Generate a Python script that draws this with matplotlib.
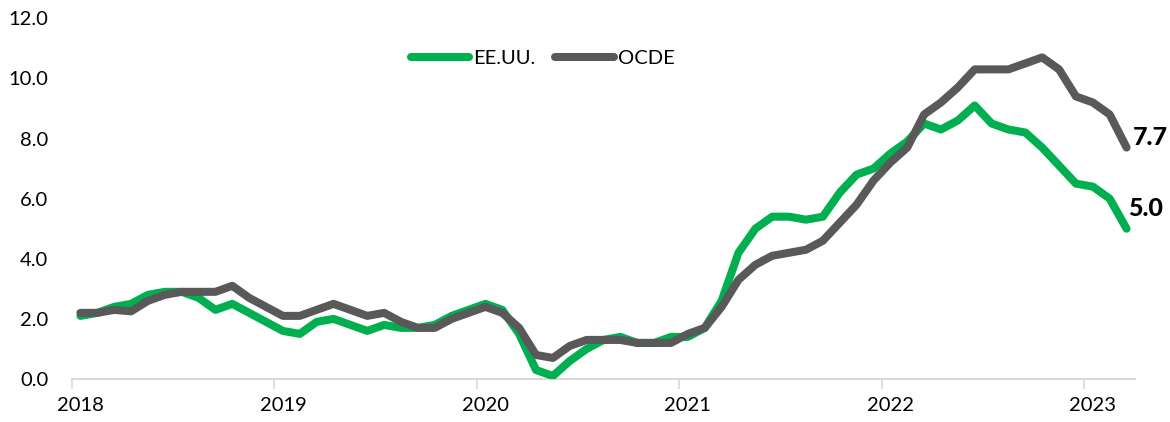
import matplotlib
matplotlib.use("Agg")
import matplotlib.pyplot as plt
import numpy as np

plt.rcParams['font.family'] = ['Lato', 'DejaVu Sans']

years = ["2018", "2019", "2020", "2021", "2022", "2023"]
us = [2.1, 2.2, 2.4, 2.5, 2.8, 2.9, 2.9, 2.7, 2.3, 2.5, 2.2, 1.9,
      1.6, 1.5, 1.9, 2.0, 1.8, 1.6, 1.8, 1.7, 1.7, 1.8, 2.1, 2.3,
      2.5, 2.3, 1.5, 0.3, 0.1, 0.6, 1.0, 1.3, 1.4, 1.2, 1.2, 1.4,
      1.4, 1.7, 2.6, 4.2, 5.0, 5.4, 5.4, 5.3, 5.4, 6.2, 6.8, 7.0,
      7.5, 7.9, 8.5, 8.3, 8.6, 9.1, 8.5, 8.3, 8.2, 7.7, 7.1, 6.5,
      6.4, 6.0, 5.0]
oecd = [2.2, 2.2, 2.3, 2.25, 2.6, 2.8, 2.9, 2.9, 2.9, 3.1, 2.7, 2.4,
        2.1, 2.1, 2.3, 2.5, 2.3, 2.1, 2.2, 1.9, 1.7, 1.7, 2.0, 2.2,
        2.4, 2.2, 1.7, 0.8, 0.7, 1.1, 1.3, 1.3, 1.3, 1.2, 1.2, 1.2,
        1.5, 1.7, 2.4, 3.3, 3.8, 4.1, 4.2, 4.3, 4.6, 5.2, 5.8, 6.6,
        7.2, 7.7, 8.8, 9.2, 9.7, 10.3, 10.3, 10.3, 10.5, 10.7, 10.3, 9.4,
        9.2, 8.8, 7.7]
series_names = ["EE.UU.", "OCDE"]

GREEN = "#00B050"
GRAY = "#595959"

W, H = 1170, 422
fig = plt.figure(figsize=(W / 100, H / 100), dpi=100)
ax = fig.add_axes([72 / W, (H - 379) / H, (1135 - 72) / W, (379 - 18.3) / H])

x = np.arange(len(us))
l1, = ax.plot(x, us, color=GREEN, lw=5.8, solid_capstyle='round',
              solid_joinstyle='round', label=series_names[0], zorder=3)
l2, = ax.plot(x, oecd, color=GRAY, lw=5.8, solid_capstyle='round',
              solid_joinstyle='round', label=series_names[1], zorder=4)

ax.set_xlim(-0.5, len(us) - 0.5)
ax.set_ylim(0, 12)
ax.set_yticks(np.arange(0, 12.1, 2))
ax.set_yticklabels([f"{v:.1f}" for v in np.arange(0, 12.1, 2)], fontsize=14.5)
ax.tick_params(axis='y', length=0, pad=17)

# major ticks at year boundaries, labels at first month of year
bounds = np.arange(-0.5, len(us), 12)
ax.set_xticks(bounds)
ax.set_xticklabels([""] * len(bounds))
ax.tick_params(axis='x', which='major', length=7, width=1.2, color="#D9D9D9")
ax.set_xticks(np.arange(0, len(us), 12), minor=True)
ax.set_xticklabels(years, minor=True, fontsize=14.5)
ax.tick_params(axis='x', which='minor', length=0, pad=13)

for s in ["top", "right", "left"]:
    ax.spines[s].set_visible(False)
ax.spines["bottom"].set_color("#D9D9D9")
ax.spines["bottom"].set_linewidth(1.5)

ax.annotate(f"{oecd[-1]:.1f}", xy=(x[-1], oecd[-1]), xytext=(4.2, 7),
            textcoords='offset points', ha='left', va='center',
            fontsize=18, fontweight='black', annotation_clip=False)
ax.annotate(f"{us[-1]:.1f}", xy=(x[-1], us[-1]), xytext=(1.2, 14.5),
            textcoords='offset points', ha='left', va='center',
            fontsize=18, fontweight='black', annotation_clip=False)

fig.legend(handles=[l1, l2], loc='center', bbox_to_anchor=(542.5 / W, 1 - 58 / H),
           ncol=2, frameon=False, fontsize=14.5, handlelength=2.9,
           handletextpad=0.2, columnspacing=1.0)

fig.savefig("out.png", dpi=100)
